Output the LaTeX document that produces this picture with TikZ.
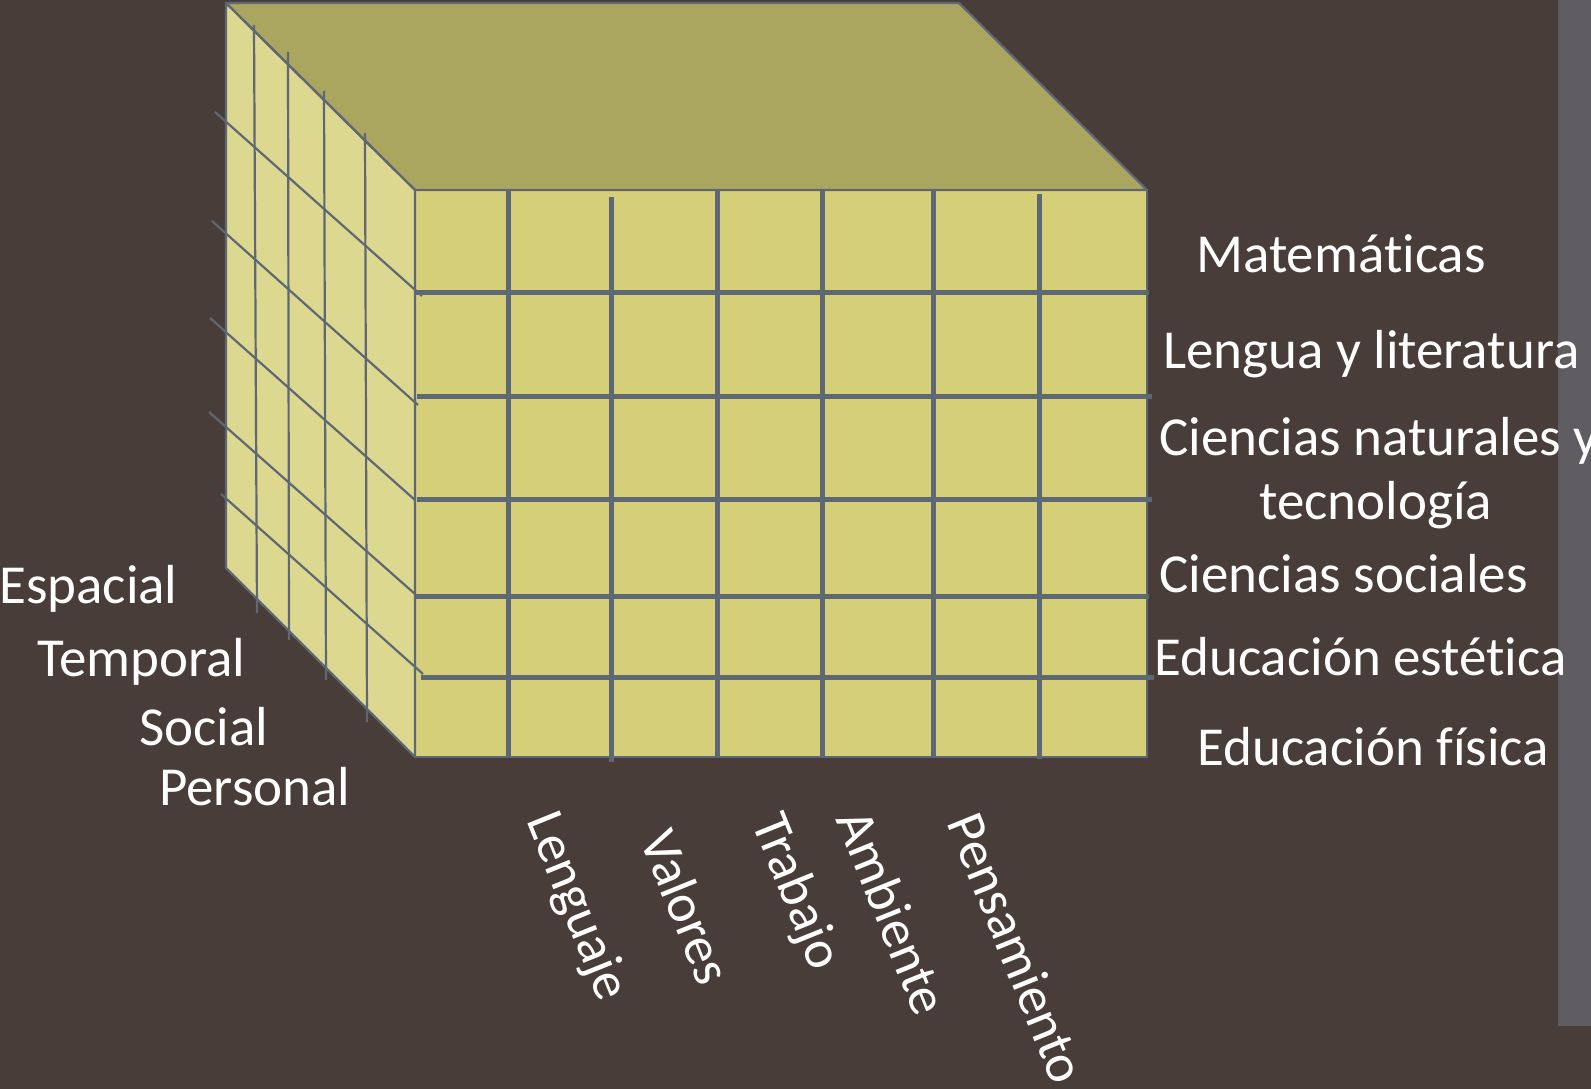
\documentclass[tikz,border=0pt]{standalone}
\usepackage{fontspec}
\setmainfont[Ligatures={NoCommon,NoRequired,NoContextual}]{Carlito}
\definecolor{bgc}{HTML}{483D39}
\definecolor{barc}{HTML}{5F5D62}
\definecolor{frontc}{HTML}{D4CF78}
\definecolor{sidec}{HTML}{DCD88F}
\definecolor{topc}{HTML}{AAA660}
\definecolor{gridc}{HTML}{5E6874}
\begin{document}
\begin{tikzpicture}[x=1pt,y=-1pt,
  thinline/.style={draw=gridc, line width=2.2pt},
  thickline/.style={draw=gridc, line width=5pt},
  lab/.style={text=white, font=\fontsize{55}{60}\selectfont, inner sep=0pt, anchor=base west},
  blab/.style={text=white, font=\fontsize{54}{60}\selectfont, inner sep=0pt, anchor=center, rotate=-68}]
\useasboundingbox (0,0) rectangle (1591,1089);
\fill[bgc] (0,0) rectangle (1591,1089);
\fill[barc] (1558,0) rectangle (1591,1026);

% cube corners
\coordinate (A) at (226,3);
\coordinate (B) at (959,3);
\coordinate (C) at (1147,190);
\coordinate (D) at (415,190);
\coordinate (E) at (415,757);
\coordinate (F) at (1147,757);
\coordinate (G) at (226,568);

\fill[topc] (A) -- (B) -- (C) -- (D) -- cycle;
\fill[sidec] (A) -- (D) -- (E) -- (G) -- cycle;
\fill[frontc] (D) -- (C) -- (F) -- (E) -- cycle;

% left face grid
\foreach \xa/\ya/\xb/\yb in {254/25/257/613, 288/52/289/640, 324/91/326/680, 365/133/367/722}
  \draw[thinline] (\xa,\ya) -- (\xb,\yb);
\foreach \xa/\ya/\xb/\yb in {215/112/422/296, 212/221/418/405, 210/318/415/500, 209/412/415/594, 221/494/423/674}
  \draw[thinline] (\xa,\ya) -- (\xb,\yb);

% outlines
\draw[thinline, line join=round] (A) -- (B) -- (C) -- (D) -- cycle;
\draw[thinline, line join=round] (A) -- (D) -- (E) -- (G) -- cycle;
\draw[thinline, line join=round] (D) -- (C) -- (F) -- (E) -- cycle;

% front face grid
\foreach \xa/\y/\xb in {415/292/1149, 417/396/1152, 417/499/1152, 415/596/1149, 421/677/1154}
  \draw[thickline] (\xa,\y) -- (\xb,\y);
\foreach \x/\ya/\yb in {508/190/757, 611/197/762, 717/190/757, 822/190/757, 933/190/757, 1039/194/759}
  \draw[thickline] (\x,\ya) -- (\x,\yb);

% right labels
\node[lab] (mat) at (1196,272) {Matemáticas};
\node[lab] (len) at (1163,368) {Lengua y literatura};
\node[lab] (cn1) at (1159,455) {Ciencias naturales y};
\node[lab] (cn2) at (1259,519) {tecnología};
\node[lab] (cs) at (1159,592) {Ciencias sociales};
\node[lab] (ee) at (1154,675) {Educación estética};
\node[lab] (ef) at (1197,765) {Educación física};

% left labels
\node[lab] (esp) at (-1,603) {Espacial};
\node[lab] (tem) at (37,676) {Temporal};
\node[lab] (soc) at (139,745) {Social};
\node[lab] (per) at (159,805) {Personal};

% bottom labels
\node[blab] (lg) at (576,907) {Lenguaje};
\node[blab] (va) at (687,907) {Valores};
\node[blab] (tr) at (795,892) {Trabajo};
\node[blab] (am) at (893,912) {Ambiente};
\node[blab] (pe) at (1017,948) {Pensamiento};
\end{tikzpicture}
\end{document}
